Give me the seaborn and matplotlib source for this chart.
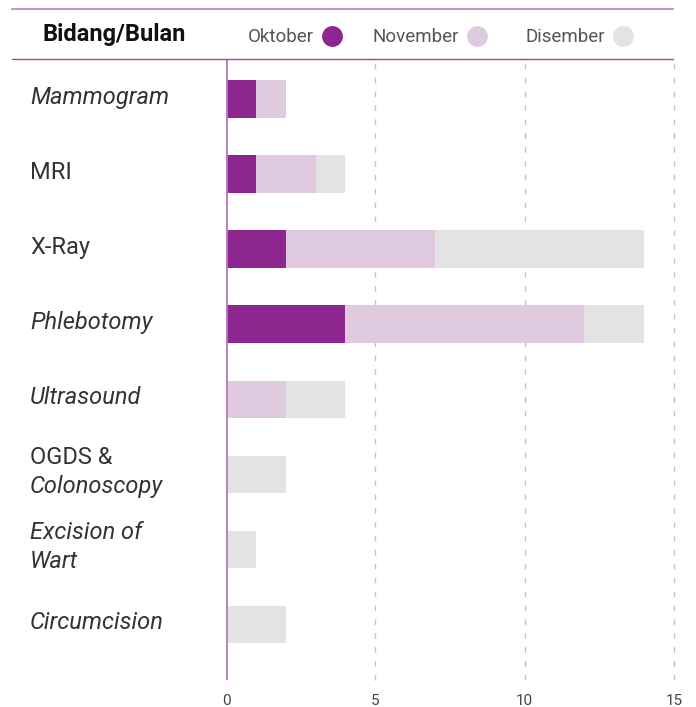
import matplotlib
matplotlib.use('Agg')
import matplotlib.pyplot as plt
import seaborn as sns
import pandas as pd
from matplotlib.lines import Line2D
from matplotlib import transforms

# Data
categories = ['Mammogram', 'MRI', 'X-Ray', 'Phlebotomy', 'Ultrasound',
              'OGDS & Colonoscopy', 'Excision of Wart', 'Circumcision']
oktober = [1, 1, 2, 4, 0, 0, 0, 0]
november = [1, 2, 5, 8, 2, 0, 0, 0]
disember = [0, 1, 7, 2, 2, 2, 1, 2]
months = ['Oktober', 'November', 'Disember']
x_ticks = [0, 5, 10, 15]

# how each category label is written: list of (line text, italic)
label_lines = [
    [('Mammogram', True)],
    [('MRI', False)],
    [('X-Ray', False)],
    [('Phlebotomy', True)],
    [('Ultrasound', True)],
    [('OGDS &', False), ('Colonoscopy', True)],
    [('Excision of', True), ('Wart', True)],
    [('Circumcision', True)],
]

colors = {'Oktober': '#8e268f', 'November': '#dfcae0', 'Disember': '#e3e3e4'}

sns.set_theme(style='white')
plt.rcParams['font.family'] = ['Roboto', 'DejaVu Sans']

df = pd.DataFrame({'cat': categories, 'Oktober': oktober,
                   'November': november, 'Disember': disember})
df['okt_nov'] = df['Oktober'] + df['November']
df['total'] = df['okt_nov'] + df['Disember']

W, H = 696, 707
fig = plt.figure(figsize=(W / 100, H / 100), dpi=100)
ax = fig.add_axes([226 / W, 1 - 680 / H, 448 / W, 620 / H])

# stacked bars: draw cumulative totals from back to front
for col, month in [('total', 'Disember'), ('okt_nov', 'November'), ('Oktober', 'Oktober')]:
    sns.barplot(data=df, x=col, y='cat', orient='h', color=colors[month],
                width=0.5, saturation=1, linewidth=0, ax=ax, zorder=2)

ax.set_xlim(0, 15)
ax.set_ylim(7.74, -0.52)
ax.set_xticks(x_ticks)
ax.set_yticks([])
ax.set_xlabel('')
ax.set_ylabel('')
for s in ax.spines.values():
    s.set_visible(False)
for x in x_ticks[1:]:
    ax.axvline(x, color='#c4c4c4', lw=1, ls=(0, (4, 6)), zorder=0, clip_on=False)
ax.axvline(0, color='#b77cbb', lw=2, zorder=3)
ax.tick_params(axis='x', length=0, labelsize=11, colors='#444444', pad=10)

# category labels, left aligned in figure space
trans = transforms.blended_transform_factory(fig.transFigure, ax.transData)
for i, lines in enumerate(label_lines):
    n = len(lines)
    for j, (txt, italic) in enumerate(lines):
        dy = (n - 1) / 2 * 29 - j * 29 + 2
        t = transforms.offset_copy(trans, fig=fig, y=dy, units='dots')
        ax.text(30 / W, i, txt, transform=t, ha='left', va='center',
                fontsize=17, color='#333333',
                style='italic' if italic else 'normal')

# header row
fig.add_artist(Line2D([12 / W, 673 / W], [1 - 9 / H] * 2, color='#c793c9', lw=1.5))
fig.add_artist(Line2D([12 / W, 673 / W], [1 - 59 / H] * 2, color='#9a4a9c', lw=1))
fig.text(42 / W, 1 - 34 / H, 'Bidang/Bulan', fontsize=17, fontweight='bold',
         color='#111111', ha='left', va='center')

legend_text_right = [314, 459, 605]
legend_dot_x = [332, 477, 623]
for month, tx, dx in zip(months, legend_text_right, legend_dot_x):
    fig.text(tx / W, 1 - 37 / H, month, fontsize=13.5, color='#555555',
             ha='right', va='center')
    fig.add_artist(Line2D([dx / W], [1 - 36 / H], marker='o', markersize=14,
                          color=colors[month], lw=0))

fig.savefig('out.png', dpi=100)
